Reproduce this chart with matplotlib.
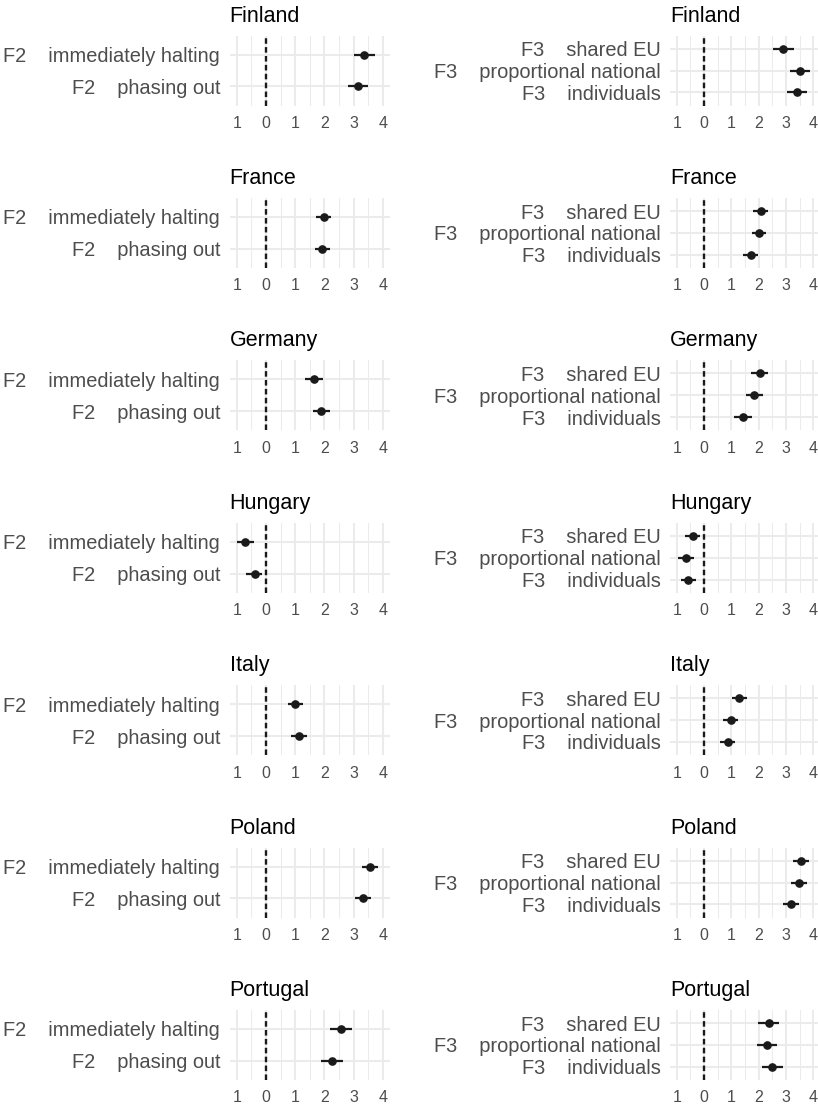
"""Country-by-country coefficient plots for the F2 and F3 attributes."""
import matplotlib
matplotlib.use('Agg')
import matplotlib.pyplot as plt

plt.rcParams['font.family'] = ['Liberation Sans', 'DejaVu Sans']
plt.rcParams['lines.scale_dashes'] = False

countries = ['Finland', 'France', 'Germany', 'Hungary', 'Italy', 'Poland', 'Portugal']

# F2 levels, listed top to bottom
f2_levels = ['F2    immediately halting', 'F2    phasing out']
f2_est = [
    [3.37, 3.15], [1.97, 1.93], [1.64, 1.89], [-0.71, -0.39],
    [0.99, 1.14], [3.56, 3.31], [2.58, 2.27],
]
f2_lo = [
    [3.00, 2.80], [1.70, 1.68], [1.35, 1.60], [-0.99, -0.67],
    [0.74, 0.87], [3.29, 3.05], [2.20, 1.89],
]
f2_hi = [
    [3.73, 3.50], [2.23, 2.20], [1.94, 2.19], [-0.41, -0.12],
    [1.25, 1.39], [3.84, 3.59], [2.94, 2.62],
]

# F3 levels, listed top to bottom
f3_levels = ['F3    shared EU', 'F3    proportional national', 'F3    individuals']
f3_est = [
    [2.90, 3.52, 3.40], [2.07, 2.01, 1.71], [2.04, 1.84, 1.42],
    [-0.40, -0.66, -0.58], [1.29, 0.99, 0.87], [3.55, 3.48, 3.17],
    [2.37, 2.31, 2.50],
]
f3_lo = [
    [2.53, 3.15, 3.04], [1.80, 1.74, 1.44], [1.73, 1.53, 1.10],
    [-0.69, -0.94, -0.86], [1.02, 0.71, 0.59], [3.27, 3.19, 2.88],
    [1.99, 1.93, 2.12],
]
f3_hi = [
    [3.28, 3.88, 3.77], [2.36, 2.28, 1.98], [2.36, 2.17, 1.74],
    [-0.13, -0.36, -0.28], [1.56, 1.26, 1.14], [3.83, 3.76, 3.47],
    [2.75, 2.69, 2.88],
]

x_ticks = [-1, 0, 1, 2, 3, 4]
x_tick_labels = ['1', '0', '1', '2', '3', '4']
x_minor = [-0.5, 0.5, 1.5, 2.5, 3.5]

FIG_W, FIG_H = 818, 1106
GRID = '#EBEBEB'
TEXT_GREY = '#4D4D4D'
INK = '#1A1A1A'


def _px_axes(fig, left, top, width, height):
    return fig.add_axes([
        left / FIG_W,
        1 - (top + height) / FIG_H,
        width / FIG_W,
        height / FIG_H,
    ])


def _draw_panel(ax, title, levels, est, lo, hi):
    n = len(levels)
    ys = list(range(n, 0, -1))

    ax.set_xlim(-1.25, 4.25)
    ax.set_ylim(0.4, n + 0.6)

    for x in x_minor:
        ax.axvline(x, color=GRID, lw=0.75, zorder=0)
    for x in x_ticks:
        ax.axvline(x, color=GRID, lw=1.5, zorder=0)
    for y in ys:
        ax.axhline(y, color=GRID, lw=1.5, zorder=0)

    ax.axvline(0, color=INK, lw=1.7, linestyle=(0, (4.0, 2.4)), zorder=2)

    ax.hlines(ys, lo, hi, color=INK, lw=1.6, zorder=3)
    ax.plot(est, ys, 'o', color=INK, ms=5.2, zorder=4)

    ax.set_yticks(ys)
    ax.set_yticklabels(levels)
    ax.set_xticks(x_ticks)
    ax.set_xticklabels(x_tick_labels)
    ax.tick_params(axis='y', length=0, pad=6.8, labelsize=14.4,
                   labelcolor=TEXT_GREY)
    ax.tick_params(axis='x', length=0, pad=7.5, labelsize=11.5,
                   labelcolor=TEXT_GREY)
    for side in ax.spines.values():
        side.set_visible(False)

    ax.set_title(title, loc='left', pad=10, fontsize=15.5, color='black')


def _plot_country_panels():
    fig = plt.figure(figsize=(FIG_W / 100, FIG_H / 100), dpi=100)

    row_step = 162.4
    for i, country in enumerate(countries):
        top = 35.5 + i * row_step
        ax_left = _px_axes(fig, 229.5, top, 160.6, 70)
        _draw_panel(ax_left, country, f2_levels,
                    f2_est[i], f2_lo[i], f2_hi[i])
        ax_right = _px_axes(fig, 669.9, top, 150.2, 70)
        _draw_panel(ax_right, country, f3_levels,
                    f3_est[i], f3_lo[i], f3_hi[i])

    fig.savefig('out.png', dpi=100)


if __name__ == '__main__':
    _plot_country_panels()
